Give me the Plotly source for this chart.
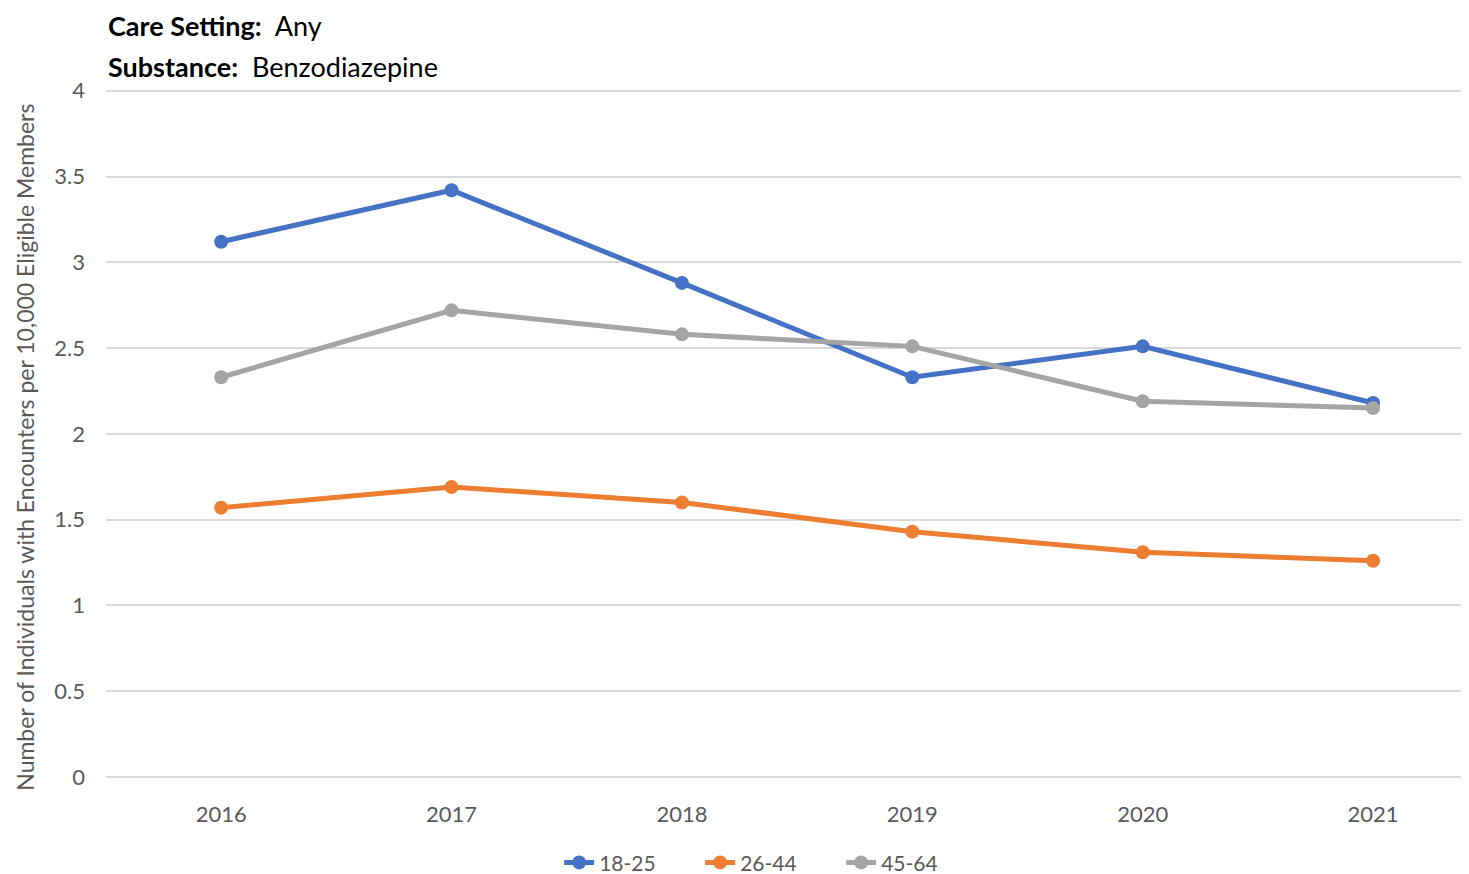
import plotly.graph_objects as go

years = [2016, 2017, 2018, 2019, 2020, 2021]
age_18_25 = [3.12, 3.42, 2.88, 2.33, 2.51, 2.18]
age_26_44 = [1.57, 1.69, 1.60, 1.43, 1.31, 1.26]
age_45_64 = [2.33, 2.72, 2.58, 2.51, 2.19, 2.15]

series = [
    ('18-25', age_18_25, '#4472C4'),
    ('26-44', age_26_44, '#ED7D31'),
    ('45-64', age_45_64, '#A5A5A5'),
]

font_family = 'Lato, Calibri, Open Sans, sans-serif'

fig = go.Figure()
for name, values, color in series:
    fig.add_trace(go.Scatter(
        x=years, y=values, name=name, mode='lines+markers',
        line=dict(color=color, width=5),
        marker=dict(color=color, size=14),
    ))

# page body adds an 8px offset, so the figure is a bit smaller than the window
fig.update_layout(
    width=1461, height=866,
    plot_bgcolor='white', paper_bgcolor='white',
    margin=dict(l=98, r=1, t=81, b=97, autoexpand=False),
    font=dict(family=font_family, size=22, color='#595959'),
    showlegend=True,
    legend=dict(orientation='h', xref='container', yref='container',
                x=0.522, xanchor='center', y=0.013, yanchor='middle',
                font=dict(size=21, color='#595959'), entrywidth=96, entrywidthmode='pixels'),
)

fig.update_xaxes(
    range=[2015.5, 2021.412], tickvals=years, ticktext=[str(y) for y in years],
    showgrid=False, zeroline=False, showline=False, ticks='',
    ticklabelstandoff=22, tickfont=dict(size=22, color='#595959'),
)
fig.update_yaxes(
    range=[0, 4.01], tickvals=[0, 0.5, 1, 1.5, 2, 2.5, 3, 3.5, 4],
    ticktext=['0', '0.5', '1', '1.5', '2', '2.5', '3', '3.5', '4'],
    showgrid=True, gridcolor='#D9D9D9', gridwidth=2,
    zeroline=True, zerolinecolor='#D9D9D9', zerolinewidth=2, showline=False, ticks='',
    ticklabelstandoff=20, tickfont=dict(size=22, color='#595959'),
)

# header and y-axis title as annotations
fig.add_annotation(text='<b>Care Setting:</b>  Any', xref='paper', yref='paper',
                   x=0.0, y=1.093, xanchor='left', yanchor='middle', showarrow=False,
                   font=dict(size=27, color='black', family=font_family))
fig.add_annotation(text='<b>Substance:</b>  Benzodiazepine', xref='paper', yref='paper',
                   x=0.0, y=1.032, xanchor='left', yanchor='middle', showarrow=False,
                   font=dict(size=27, color='black', family=font_family))
fig.add_annotation(text='Number of Individuals with Encounters per 10,000 Eligible Members',
                   xref='paper', yref='paper', x=-0.0595, y=0.48, xanchor='center', yanchor='middle',
                   textangle=-90, showarrow=False, font=dict(size=23, color='#595959'))

fig.write_html('out.html')
